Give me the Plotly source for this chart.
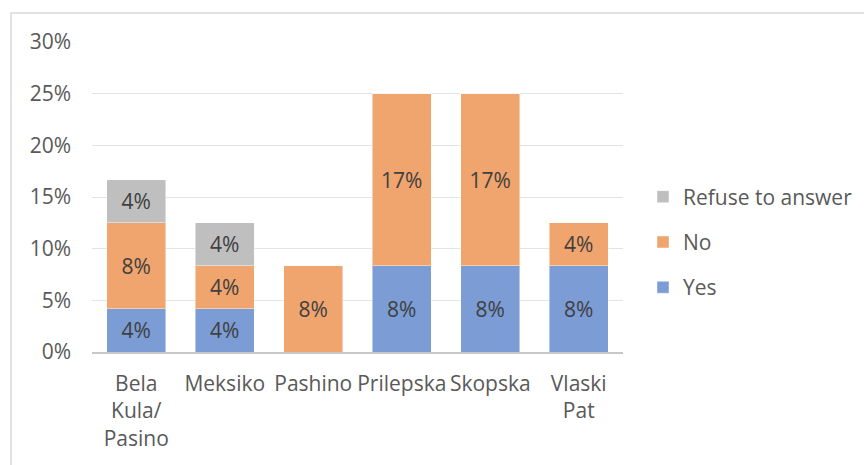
import plotly.graph_objects as go

# Share of respondents per settlement, by answer
categories = ["Bela<br>Kula/<br>Pasino", "Meksiko", "Pashino", "Prilepska", "Skopska", "Vlaski<br>Pat"]
yes_vals = [0.0417, 0.0417, 0.0, 0.0833, 0.0833, 0.0833]
no_vals = [0.0833, 0.0417, 0.0833, 0.1667, 0.1667, 0.0417]
refuse_vals = [0.0417, 0.0417, 0.0, 0.0, 0.0, 0.0]

y_ticks = [0, 0.05, 0.10, 0.15, 0.20, 0.25, 0.30]
y_tick_text = ["0%", "5%", "10%", "15%", "20%", "25%", "30%"]

FONT = "Open Sans"
SIZE = 21
series = [
    ("Yes", yes_vals, "#7B9CD5", 3),
    ("No", no_vals, "#F0A46E", 2),
    ("Refuse to answer", refuse_vals, "#BFBFBF", 1),
]

fig = go.Figure()
for name, vals, color, rank in series:
    labels = [f"{v:.0%}" if v > 0 else "" for v in vals]
    fig.add_trace(go.Bar(
        name=name,
        x=categories,
        y=vals,
        text=labels,
        texttemplate="%{text}",
        textposition="inside",
        insidetextanchor="middle",
        textangle=0,
        textfont=dict(family=FONT, size=SIZE, color="#404040"),
        marker=dict(color=color, line=dict(color="rgba(255,255,255,0.45)", width=1)),
        legendgroup=name,
        legendrank=rank,
        hoverinfo="skip",
    ))

fig.update_layout(
    barmode="stack",
    bargap=0.333,
    width=864,
    height=465,
    margin=dict(l=92, r=241, t=42, b=113, autoexpand=False),
    paper_bgcolor="white",
    plot_bgcolor="white",
    font=dict(family=FONT, size=SIZE, color="#595959"),
    uniformtext=dict(minsize=SIZE, mode="show"),
    legend=dict(
        traceorder="grouped",
        tracegroupgap=15,
        x=(643 - 92) / 531, xanchor="left",
        y=(352 - 242) / 310, yanchor="middle",
        font=dict(family=FONT, size=SIZE, color="#595959"),
        itemwidth=30,
        bgcolor="rgba(0,0,0,0)",
    ),
    shapes=[dict(
        type="rect", xref="paper", yref="paper",
        x0=(11 - 92) / 531, x1=(880 - 92) / 531,
        y0=(352 - 480) / 310, y1=(352 - 13) / 310,
        line=dict(color="#D9D9D9", width=1.5),
        fillcolor="rgba(0,0,0,0)", layer="below",
    )],
)

fig.update_yaxes(
    range=[0, 0.30],
    tickvals=y_ticks,
    ticktext=y_tick_text,
    showgrid=True,
    gridcolor="#E3E3E3",
    gridwidth=1.3,
    zeroline=False,
    showline=False,
    ticklabelstandoff=20,
    tickfont=dict(family=FONT, size=SIZE, color="#595959"),
)
fig.update_xaxes(
    showline=True,
    linecolor="#C8C8C8",
    linewidth=1.5,
    showgrid=False,
    ticks="",
    ticklabelstandoff=12,
    tickangle=0,
    tickfont=dict(family=FONT, size=SIZE, color="#595959"),
)

fig.write_html("out.html")
